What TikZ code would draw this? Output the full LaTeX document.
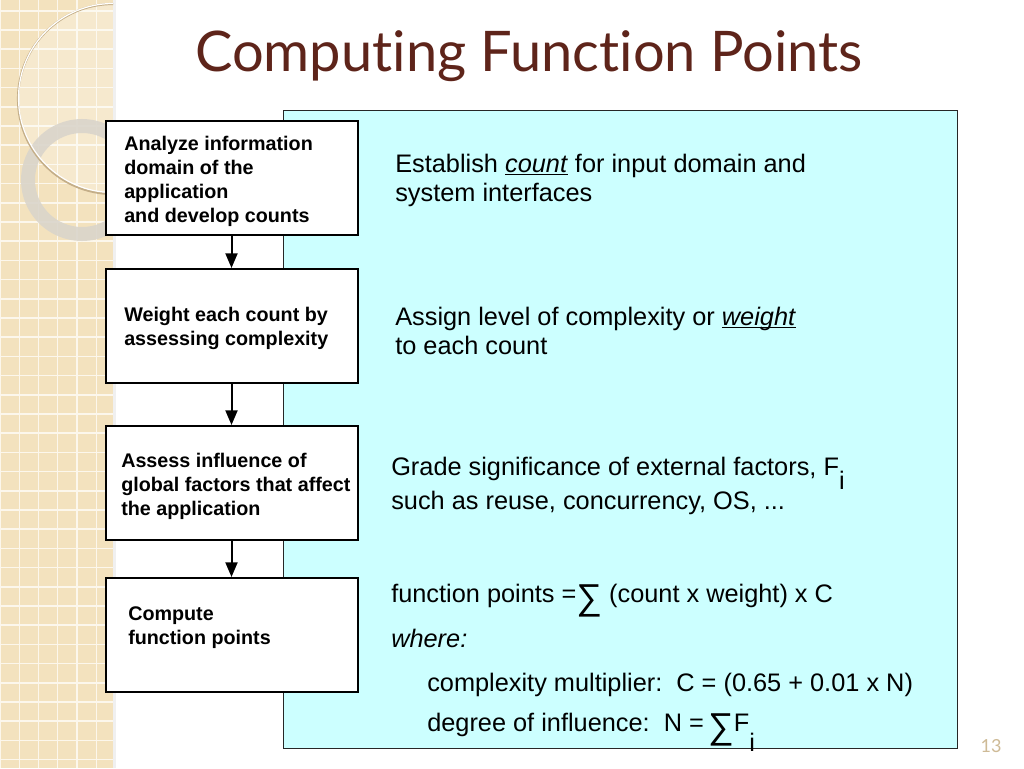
\documentclass[tikz,border=0pt]{standalone}
\usepackage{fontspec}
\setmainfont{Liberation Sans}
\newfontfamily\titlefont[Ligatures={NoCommon,NoContextual}]{Lato}
\usetikzlibrary{arrows.meta}

\definecolor{panelcyan}{RGB}{204,255,255}
\definecolor{stripbeige}{RGB}{243,226,190}
\definecolor{gridwhite}{RGB}{252,247,236}
\definecolor{titlebrown}{RGB}{94,36,26}
\definecolor{ringgrey}{RGB}{218,213,203}
\definecolor{circletan}{RGB}{196,174,136}
\definecolor{pagetan}{RGB}{206,186,150}

\tikzset{
  stepbox/.style={draw=black, line width=1.5pt, fill=white, minimum width=189pt, minimum height=85.5pt, inner sep=0pt},
  boxtext/.style={anchor=north west, inner sep=0pt, align=left, font=\fontsize{14.8}{18}\selectfont\bfseries},
  paneltext/.style={anchor=north west, inner sep=0pt, align=left, font=\fontsize{19}{21.75}\selectfont},
  flowarrow/.style={line width=1.5pt, -{Triangle[length=11pt,width=9pt]}},
}
\newcommand{\lowsub}[2][10pt]{\raisebox{-#1}{#2}}
\newcommand{\bigsum}{\raisebox{-5pt}{\fontsize{27}{27}\selectfont ∑}}
\newcommand{\keyword}[1]{\underline{\smash{\textit{#1}}}}

\begin{document}
\begin{tikzpicture}[x=0.75pt,y=0.75pt,yscale=-1,xscale=1]
\useasboundingbox (0,0) rectangle (1024,768);
\fill[white] (0,0) rectangle (1024,768);

%Shape: Left strip with grid and rings
\begin{scope}
\clip (0,0) rectangle (113,768);
\fill[stripbeige] (0,0) rectangle (113,768);
\foreach \k in {0,...,5} \draw[gridwhite, line width=1.1pt] (19.25*\k,0) -- (19.25*\k,768);
\foreach \k in {0,...,39} \draw[gridwhite, line width=1.1pt] (0,10.8+19.2*\k) -- (113,10.8+19.2*\k);
\fill[white, opacity=0.25] (113,98) circle [radius=95];
\draw[ringgrey, opacity=0.9, line width=10.5pt] (82,180) circle [radius=54];
\draw[circletan, line width=1.6pt] (113,99) circle [radius=95];
\draw[white, line width=0.9pt] (113,98) circle [radius=94.5];
\end{scope}
\fill[black, opacity=0.06] (113,0) rectangle (116,768);

%Shape: Rectangle
\draw[fill=panelcyan, draw=black!85, line width=0.75pt] (283,110) rectangle (957,748);

%Flow boxes
\node[stepbox] (analyze) at (231.5,178) {};
\node[stepbox] (weight) at (231.5,326) {};
\node[stepbox] (assess) at (231.5,483) {};
\node[stepbox] (compute) at (231.5,635) {};

\draw[flowarrow] (analyze) -- (weight);
\draw[flowarrow] (weight) -- (assess);
\draw[flowarrow] (assess) -- (compute);

% Text Node
\node[boxtext] (analyzetxt) at (124,136) {Analyze information\\domain of the\\application\\and develop counts};
% Text Node
\node[boxtext] (weighttxt) at (124,307) {Weight each count by\\assessing complexity};
% Text Node
\node[boxtext] (assesstxt) at (121,453) {Assess influence of\\global factors that affect\\the application};
% Text Node
\node[boxtext] (computetxt) at (128,606) {Compute\\function points};

% Text Node
\node[paneltext] (counttxt) at (395,154) {Establish \keyword{count} for input domain and\\system interfaces};
% Text Node
\node[paneltext] (weightdesc) at (395,307) {Assign level of complexity or \keyword{weight}\\to each count};
% Text Node
\node[paneltext] (gradetxt) at (391,457) {Grade significance of external factors, F\lowsub[10.5pt]{i}\\such as reuse, concurrency, OS, ...};
% Text Node
\node[paneltext] (fptxt) at (391,584) {function points =\bigsum\ (count x weight) x C};
% Text Node
\node[paneltext] (wheretxt) at (391,629) {\textit{where:}};
% Text Node
\node[paneltext] (multtxt) at (427,673) {complexity multiplier:\ \ C = (0.65 + 0.01 x N)};
% Text Node
\node[paneltext] (infltxt) at (427,713) {degree of influence:\ \ N =\,\bigsum F\lowsub[15pt]{i}};

% Title
\node[anchor=base, font=\titlefont\fontsize{42}{42}\selectfont, text=titlebrown] (title) at (529,71) {Computing Function Points};
% Page number
\node[anchor=base, font=\titlefont\fontsize{13.5}{13.5}\selectfont, text=pagetan] (pagenum) at (991,752) {13};

\end{tikzpicture}
\end{document}
